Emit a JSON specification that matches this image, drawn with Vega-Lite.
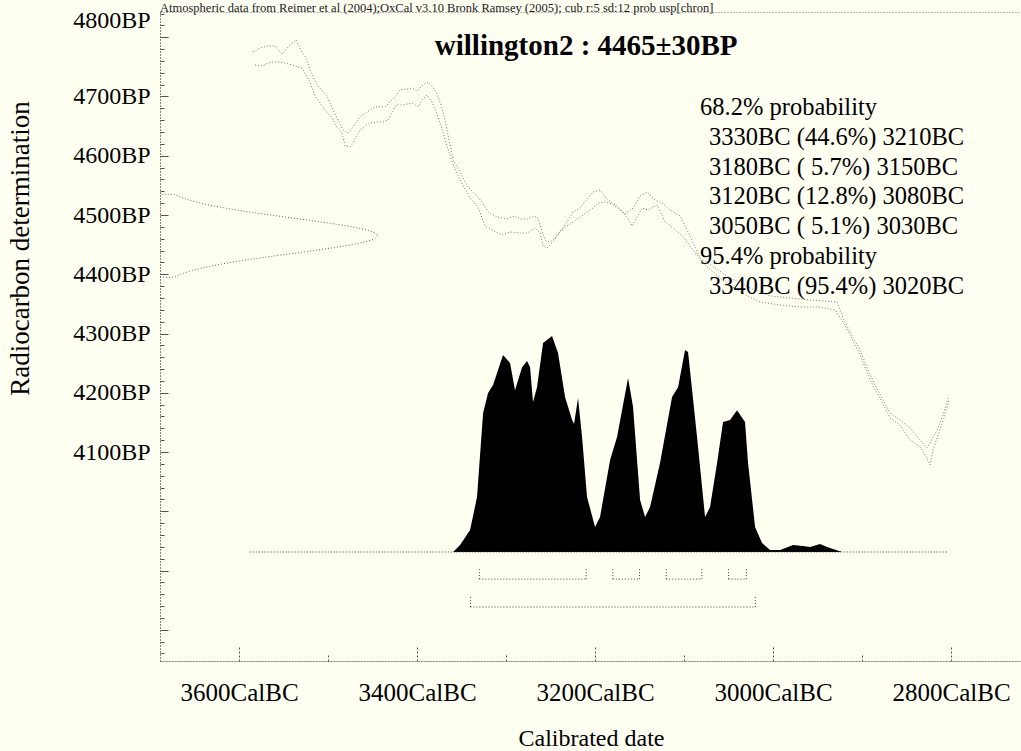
{
  "$schema": "https://vega.github.io/schema/vega-lite/v6.json",
  "autosize": {"type": "none"},
  "padding": {"left": 160, "top": 12, "right": 0, "bottom": 90},
  "width": 862,
  "height": 649,
  "background": "#FFFFF2",
  "config": {
    "view": {"stroke": "#777", "strokeDash": [1, 2]},
    "font": "Liberation Serif"
  },
  "datasets": {
    "curve": [
      {"s": "hi", "cal": 3584.3, "bp": 4775.1}, {"s": "hi", "cal": 3576.4, "bp": 4781.9}, {"s": "hi", "cal": 3567.4, "bp": 4785.2},
      {"s": "hi", "cal": 3559.6, "bp": 4785.2}, {"s": "hi", "cal": 3551.7, "bp": 4771.7}, {"s": "hi", "cal": 3542.7, "bp": 4786.9},
      {"s": "hi", "cal": 3536.0, "bp": 4795.4}, {"s": "hi", "cal": 3529.2, "bp": 4775.1}, {"s": "hi", "cal": 3524.7, "bp": 4765.0},
      {"s": "hi", "cal": 3520.2, "bp": 4744.7}, {"s": "hi", "cal": 3512.4, "bp": 4719.4}, {"s": "hi", "cal": 3501.1, "bp": 4700.9},
      {"s": "hi", "cal": 3494.4, "bp": 4677.2}, {"s": "hi", "cal": 3488.8, "bp": 4660.3}, {"s": "hi", "cal": 3483.1, "bp": 4643.5},
      {"s": "hi", "cal": 3477.5, "bp": 4638.4}, {"s": "hi", "cal": 3471.9, "bp": 4648.5}, {"s": "hi", "cal": 3464.0, "bp": 4665.4},
      {"s": "hi", "cal": 3456.2, "bp": 4673.9}, {"s": "hi", "cal": 3447.2, "bp": 4682.3}, {"s": "hi", "cal": 3436.0, "bp": 4682.3},
      {"s": "hi", "cal": 3424.7, "bp": 4699.2}, {"s": "hi", "cal": 3419.1, "bp": 4711.0}, {"s": "hi", "cal": 3411.2, "bp": 4712.7},
      {"s": "hi", "cal": 3405.6, "bp": 4714.4}, {"s": "hi", "cal": 3400.0, "bp": 4709.3}, {"s": "hi", "cal": 3393.3, "bp": 4719.4},
      {"s": "hi", "cal": 3387.6, "bp": 4724.5}, {"s": "hi", "cal": 3383.1, "bp": 4717.7}, {"s": "hi", "cal": 3377.5, "bp": 4704.2},
      {"s": "hi", "cal": 3373.0, "bp": 4685.7}, {"s": "hi", "cal": 3368.5, "bp": 4660.3}, {"s": "hi", "cal": 3364.0, "bp": 4626.6},
      {"s": "hi", "cal": 3359.5, "bp": 4592.8}, {"s": "hi", "cal": 3351.7, "bp": 4572.6}, {"s": "hi", "cal": 3343.8, "bp": 4548.9},
      {"s": "hi", "cal": 3334.8, "bp": 4535.5}, {"s": "hi", "cal": 3327.0, "bp": 4522.0}, {"s": "hi", "cal": 3320.2, "bp": 4505.1},
      {"s": "hi", "cal": 3310.1, "bp": 4496.6}, {"s": "hi", "cal": 3298.9, "bp": 4493.3}, {"s": "hi", "cal": 3289.9, "bp": 4498.4},
      {"s": "hi", "cal": 3284.3, "bp": 4493.3}, {"s": "hi", "cal": 3275.3, "bp": 4493.3}, {"s": "hi", "cal": 3269.7, "bp": 4498.4},
      {"s": "hi", "cal": 3264.0, "bp": 4495.0}, {"s": "hi", "cal": 3260.7, "bp": 4478.1}, {"s": "hi", "cal": 3256.2, "bp": 4457.8},
      {"s": "hi", "cal": 3250.6, "bp": 4454.4}, {"s": "hi", "cal": 3244.9, "bp": 4461.2}, {"s": "hi", "cal": 3239.3, "bp": 4471.3},
      {"s": "hi", "cal": 3231.5, "bp": 4488.2}, {"s": "hi", "cal": 3224.7, "bp": 4505.1}, {"s": "hi", "cal": 3216.9, "bp": 4511.8},
      {"s": "hi", "cal": 3208.9, "bp": 4527.0}, {"s": "hi", "cal": 3202.2, "bp": 4538.8}, {"s": "hi", "cal": 3194.4, "bp": 4542.2},
      {"s": "hi", "cal": 3185.4, "bp": 4525.3}, {"s": "hi", "cal": 3175.3, "bp": 4515.2}, {"s": "hi", "cal": 3166.3, "bp": 4501.7},
      {"s": "hi", "cal": 3157.3, "bp": 4511.8}, {"s": "hi", "cal": 3149.4, "bp": 4532.1}, {"s": "hi", "cal": 3141.6, "bp": 4538.8},
      {"s": "hi", "cal": 3132.6, "bp": 4525.3}, {"s": "hi", "cal": 3124.7, "bp": 4520.3}, {"s": "hi", "cal": 3115.7, "bp": 4508.4},
      {"s": "hi", "cal": 3104.5, "bp": 4498.4}, {"s": "hi", "cal": 3093.3, "bp": 4464.6}, {"s": "hi", "cal": 3082.0, "bp": 4427.4},
      {"s": "hi", "cal": 3065.2, "bp": 4410.6}, {"s": "hi", "cal": 3048.3, "bp": 4393.7}, {"s": "hi", "cal": 3025.8, "bp": 4376.8},
      {"s": "hi", "cal": 3003.4, "bp": 4363.3}, {"s": "hi", "cal": 2980.9, "bp": 4359.9}, {"s": "hi", "cal": 2958.4, "bp": 4356.5},
      {"s": "hi", "cal": 2928.1, "bp": 4353.2}, {"s": "hi", "cal": 2921.3, "bp": 4326.2}, {"s": "hi", "cal": 2913.5, "bp": 4302.5},
      {"s": "hi", "cal": 2902.2, "bp": 4272.2}, {"s": "hi", "cal": 2893.3, "bp": 4238.4}, {"s": "hi", "cal": 2885.4, "bp": 4213.1},
      {"s": "hi", "cal": 2877.5, "bp": 4191.1}, {"s": "hi", "cal": 2868.5, "bp": 4165.8}, {"s": "hi", "cal": 2857.3, "bp": 4154.0},
      {"s": "hi", "cal": 2846.1, "bp": 4140.5}, {"s": "hi", "cal": 2837.1, "bp": 4123.6}, {"s": "hi", "cal": 2827.0, "bp": 4106.8},
      {"s": "hi", "cal": 2815.7, "bp": 4137.1}, {"s": "hi", "cal": 2809.0, "bp": 4162.4}, {"s": "hi", "cal": 2803.4, "bp": 4191.1},
      {"s": "lo", "cal": 3582.0, "bp": 4753.2}, {"s": "lo", "cal": 3574.2, "bp": 4751.5}, {"s": "lo", "cal": 3567.4, "bp": 4756.6},
      {"s": "lo", "cal": 3561.8, "bp": 4758.2}, {"s": "lo", "cal": 3556.2, "bp": 4758.2}, {"s": "lo", "cal": 3548.3, "bp": 4756.6},
      {"s": "lo", "cal": 3537.1, "bp": 4751.5}, {"s": "lo", "cal": 3529.2, "bp": 4748.1}, {"s": "lo", "cal": 3520.2, "bp": 4724.5},
      {"s": "lo", "cal": 3514.6, "bp": 4700.9}, {"s": "lo", "cal": 3503.4, "bp": 4677.2}, {"s": "lo", "cal": 3495.5, "bp": 4663.7},
      {"s": "lo", "cal": 3491.0, "bp": 4650.2}, {"s": "lo", "cal": 3484.3, "bp": 4638.4}, {"s": "lo", "cal": 3480.9, "bp": 4616.5},
      {"s": "lo", "cal": 3475.3, "bp": 4614.8}, {"s": "lo", "cal": 3471.9, "bp": 4621.5}, {"s": "lo", "cal": 3467.4, "bp": 4635.0},
      {"s": "lo", "cal": 3461.8, "bp": 4646.8}, {"s": "lo", "cal": 3452.8, "bp": 4655.3}, {"s": "lo", "cal": 3444.9, "bp": 4657.0},
      {"s": "lo", "cal": 3438.2, "bp": 4657.0}, {"s": "lo", "cal": 3432.6, "bp": 4660.3}, {"s": "lo", "cal": 3428.1, "bp": 4672.2},
      {"s": "lo", "cal": 3423.6, "bp": 4685.7}, {"s": "lo", "cal": 3416.9, "bp": 4685.7}, {"s": "lo", "cal": 3410.1, "bp": 4687.4},
      {"s": "lo", "cal": 3404.5, "bp": 4689.0}, {"s": "lo", "cal": 3398.9, "bp": 4682.3}, {"s": "lo", "cal": 3394.4, "bp": 4694.1},
      {"s": "lo", "cal": 3388.8, "bp": 4702.5}, {"s": "lo", "cal": 3383.1, "bp": 4690.7}, {"s": "lo", "cal": 3377.5, "bp": 4670.5},
      {"s": "lo", "cal": 3373.0, "bp": 4650.2}, {"s": "lo", "cal": 3367.4, "bp": 4621.5}, {"s": "lo", "cal": 3360.7, "bp": 4589.5},
      {"s": "lo", "cal": 3351.7, "bp": 4559.1}, {"s": "lo", "cal": 3340.4, "bp": 4528.7}, {"s": "lo", "cal": 3331.5, "bp": 4513.5},
      {"s": "lo", "cal": 3323.6, "bp": 4481.4}, {"s": "lo", "cal": 3315.7, "bp": 4474.7}, {"s": "lo", "cal": 3304.5, "bp": 4466.3},
      {"s": "lo", "cal": 3295.5, "bp": 4471.3}, {"s": "lo", "cal": 3284.3, "bp": 4469.6}, {"s": "lo", "cal": 3276.4, "bp": 4469.6},
      {"s": "lo", "cal": 3267.4, "bp": 4478.1}, {"s": "lo", "cal": 3261.8, "bp": 4469.6}, {"s": "lo", "cal": 3258.4, "bp": 4447.7},
      {"s": "lo", "cal": 3253.9, "bp": 4444.3}, {"s": "lo", "cal": 3247.2, "bp": 4454.4}, {"s": "lo", "cal": 3239.3, "bp": 4473.0},
      {"s": "lo", "cal": 3231.5, "bp": 4481.4}, {"s": "lo", "cal": 3224.7, "bp": 4488.2}, {"s": "lo", "cal": 3216.9, "bp": 4496.6},
      {"s": "lo", "cal": 3208.9, "bp": 4505.1}, {"s": "lo", "cal": 3202.2, "bp": 4511.8}, {"s": "lo", "cal": 3196.6, "bp": 4520.3},
      {"s": "lo", "cal": 3188.8, "bp": 4522.0}, {"s": "lo", "cal": 3180.9, "bp": 4518.6}, {"s": "lo", "cal": 3171.9, "bp": 4508.4},
      {"s": "lo", "cal": 3164.0, "bp": 4496.6}, {"s": "lo", "cal": 3158.4, "bp": 4481.4}, {"s": "lo", "cal": 3152.8, "bp": 4496.6},
      {"s": "lo", "cal": 3147.2, "bp": 4511.8}, {"s": "lo", "cal": 3140.4, "bp": 4508.4}, {"s": "lo", "cal": 3130.3, "bp": 4516.9},
      {"s": "lo", "cal": 3121.3, "bp": 4488.2}, {"s": "lo", "cal": 3112.4, "bp": 4478.1}, {"s": "lo", "cal": 3101.1, "bp": 4462.9},
      {"s": "lo", "cal": 3089.9, "bp": 4440.9}, {"s": "lo", "cal": 3076.4, "bp": 4415.6}, {"s": "lo", "cal": 3059.6, "bp": 4393.7},
      {"s": "lo", "cal": 3037.1, "bp": 4370.0}, {"s": "lo", "cal": 3014.6, "bp": 4353.2}, {"s": "lo", "cal": 2992.1, "bp": 4348.1},
      {"s": "lo", "cal": 2969.7, "bp": 4344.7}, {"s": "lo", "cal": 2947.2, "bp": 4344.7}, {"s": "lo", "cal": 2930.3, "bp": 4339.7},
      {"s": "lo", "cal": 2921.3, "bp": 4319.4}, {"s": "lo", "cal": 2913.5, "bp": 4297.5}, {"s": "lo", "cal": 2902.2, "bp": 4263.7},
      {"s": "lo", "cal": 2893.3, "bp": 4230.0}, {"s": "lo", "cal": 2886.5, "bp": 4208.0}, {"s": "lo", "cal": 2879.8, "bp": 4191.1},
      {"s": "lo", "cal": 2868.5, "bp": 4157.4}, {"s": "lo", "cal": 2857.3, "bp": 4145.6}, {"s": "lo", "cal": 2846.1, "bp": 4120.3},
      {"s": "lo", "cal": 2834.8, "bp": 4108.4}, {"s": "lo", "cal": 2827.0, "bp": 4089.9}, {"s": "lo", "cal": 2823.6, "bp": 4078.1},
      {"s": "lo", "cal": 2820.2, "bp": 4103.4}, {"s": "lo", "cal": 2814.6, "bp": 4128.7}, {"s": "lo", "cal": 2807.9, "bp": 4157.4},
      {"s": "lo", "cal": 2802.3, "bp": 4187.8}
    ],
    "gauss": [
      {"i": 0, "bp": 4395, "d": 0}, {"i": 1, "bp": 4395, "d": 0.066}, {"i": 2, "bp": 4400, "d": 0.096},
      {"i": 3, "bp": 4405, "d": 0.135}, {"i": 4, "bp": 4410, "d": 0.186}, {"i": 5, "bp": 4415, "d": 0.249},
      {"i": 6, "bp": 4420, "d": 0.325}, {"i": 7, "bp": 4425, "d": 0.411}, {"i": 8, "bp": 4430, "d": 0.506},
      {"i": 9, "bp": 4435, "d": 0.607}, {"i": 10, "bp": 4440, "d": 0.707}, {"i": 11, "bp": 4445, "d": 0.801},
      {"i": 12, "bp": 4450, "d": 0.883}, {"i": 13, "bp": 4455, "d": 0.946}, {"i": 14, "bp": 4460, "d": 0.986},
      {"i": 15, "bp": 4465, "d": 1}, {"i": 16, "bp": 4470, "d": 0.986}, {"i": 17, "bp": 4475, "d": 0.946},
      {"i": 18, "bp": 4480, "d": 0.883}, {"i": 19, "bp": 4485, "d": 0.801}, {"i": 20, "bp": 4490, "d": 0.707},
      {"i": 21, "bp": 4495, "d": 0.607}, {"i": 22, "bp": 4500, "d": 0.506}, {"i": 23, "bp": 4505, "d": 0.411},
      {"i": 24, "bp": 4510, "d": 0.325}, {"i": 25, "bp": 4515, "d": 0.249}, {"i": 26, "bp": 4520, "d": 0.186},
      {"i": 27, "bp": 4525, "d": 0.135}, {"i": 28, "bp": 4530, "d": 0.096}, {"i": 29, "bp": 4535, "d": 0.066},
      {"i": 30, "bp": 4535, "d": 0}
    ],
    "posterior": [
      {"cal": 3359.5, "p": 0}, {"cal": 3351.7, "p": 0.033}, {"cal": 3340.4, "p": 0.102}, {"cal": 3332.6, "p": 0.256},
      {"cal": 3325.8, "p": 0.647}, {"cal": 3320.2, "p": 0.74}, {"cal": 3314.6, "p": 0.777}, {"cal": 3303.4, "p": 0.916},
      {"cal": 3295.5, "p": 0.879}, {"cal": 3289.9, "p": 0.753}, {"cal": 3282.0, "p": 0.86}, {"cal": 3276.4, "p": 0.888},
      {"cal": 3273.0, "p": 0.86}, {"cal": 3269.7, "p": 0.698}, {"cal": 3265.2, "p": 0.767}, {"cal": 3258.4, "p": 0.972},
      {"cal": 3248.3, "p": 1.005}, {"cal": 3241.6, "p": 0.926}, {"cal": 3233.7, "p": 0.721}, {"cal": 3225.8, "p": 0.614},
      {"cal": 3223.6, "p": 0.595}, {"cal": 3219.1, "p": 0.716}, {"cal": 3214.6, "p": 0.535}, {"cal": 3209.0, "p": 0.256},
      {"cal": 3200.0, "p": 0.116}, {"cal": 3194.4, "p": 0.163}, {"cal": 3183.1, "p": 0.428}, {"cal": 3175.3, "p": 0.535},
      {"cal": 3162.9, "p": 0.809}, {"cal": 3157.3, "p": 0.674}, {"cal": 3149.4, "p": 0.242}, {"cal": 3143.8, "p": 0.163},
      {"cal": 3138.2, "p": 0.209}, {"cal": 3127.0, "p": 0.414}, {"cal": 3113.5, "p": 0.721}, {"cal": 3106.7, "p": 0.767},
      {"cal": 3098.9, "p": 0.94}, {"cal": 3095.5, "p": 0.93}, {"cal": 3085.4, "p": 0.535}, {"cal": 3076.4, "p": 0.163},
      {"cal": 3070.8, "p": 0.209}, {"cal": 3062.9, "p": 0.414}, {"cal": 3056.2, "p": 0.605}, {"cal": 3048.3, "p": 0.614},
      {"cal": 3040.5, "p": 0.66}, {"cal": 3031.5, "p": 0.605}, {"cal": 3028.1, "p": 0.414}, {"cal": 3020.2, "p": 0.116},
      {"cal": 3012.4, "p": 0.042}, {"cal": 3003.4, "p": 0.009}, {"cal": 2992.1, "p": 0.009}, {"cal": 2977.5, "p": 0.033},
      {"cal": 2966.3, "p": 0.028}, {"cal": 2958.4, "p": 0.023}, {"cal": 2947.2, "p": 0.037}, {"cal": 2939.3, "p": 0.023},
      {"cal": 2922.5, "p": 0}
    ],
    "ranges": [
      {"level": "68.2%", "from": 3330, "to": 3210},
      {"level": "68.2%", "from": 3180, "to": 3150},
      {"level": "68.2%", "from": 3120, "to": 3080},
      {"level": "68.2%", "from": 3050, "to": 3030},
      {"level": "95.4%", "from": 3340, "to": 3020}
    ],
    "span": [{"from": 3588, "to": 2803}],
    "notes": [
      {"k": 0, "kind": "head", "text": "68.2% probability"},
      {"k": 1, "kind": "range", "text": "3330BC (44.6%) 3210BC"},
      {"k": 2, "kind": "range", "text": "3180BC ( 5.7%) 3150BC"},
      {"k": 3, "kind": "range", "text": "3120BC (12.8%) 3080BC"},
      {"k": 4, "kind": "range", "text": "3050BC ( 5.1%) 3030BC"},
      {"k": 5, "kind": "head", "text": "95.4% probability"},
      {"k": 6, "kind": "range", "text": "3340BC (95.4%) 3020BC"}
    ],
    "label": [{"name": "willington2 : 4465±30BP"}],
    "source": [{"note": "Atmospheric data from Reimer et al (2004);OxCal v3.10 Bronk Ramsey (2005); cub r:5 sd:12 prob usp[chron]"}]
  },
  "resolve": {"scale": {"x": "independent", "y": "independent"}, "axis": {"x": "independent", "y": "independent"}},
  "layer": [
    {
      "data": {"name": "curve"},
      "mark": {"type": "line", "color": "#777", "strokeWidth": 1, "strokeDash": [1, 2]},
      "encoding": {
        "x": {
          "field": "cal", "type": "quantitative",
          "scale": {"domain": [2720.3, 3688.8], "reverse": true, "nice": false, "zero": false},
          "axis": {
            "values": [2800, 2900, 3000, 3100, 3200, 3300, 3400, 3500, 3600],
            "labelExpr": "datum.value % 200 === 0 ? datum.value + 'CalBC' : ''",
            "tickSize": {"condition": {"test": "datum.value % 200 === 0", "value": -15}, "value": -7},
            "tickColor": "#555", "tickDash": [2, 2], "tickWidth": 1,
            "domainColor": "#555", "domainDash": [1, 2],
            "labelFont": "Liberation Serif", "labelFontSize": 25, "labelColor": "#000",
            "labelPadding": 46, "labelBaseline": "middle", "labelFlush": false, "labelOverlap": false,
            "grid": false,
            "title": "Calibrated date", "titleFont": "Liberation Serif", "titleFontSize": 24,
            "titleFontWeight": "normal", "titleColor": "#000", "titleY": 77, "titleBaseline": "middle"
          }
        },
        "y": {
          "field": "bp", "type": "quantitative",
          "scale": {"domain": [3747.3, 4842.6], "nice": false, "zero": false},
          "axis": {
            "values": [3760, 3780, 3800, 3820, 3840, 3860, 3880, 3900, 3920, 3940, 3960, 3980, 4000, 4020, 4040, 4060, 4080, 4100, 4120, 4140, 4160, 4180, 4200, 4220, 4240, 4260, 4280, 4300, 4320, 4340, 4360, 4380, 4400, 4420, 4440, 4460, 4480, 4500, 4520, 4540, 4560, 4580, 4600, 4620, 4640, 4660, 4680, 4700, 4720, 4740, 4760, 4780, 4800, 4820, 4840],
            "labelExpr": "datum.value >= 4100 && datum.value % 100 === 0 ? datum.value + 'BP' : ''",
            "tickSize": {"condition": {"test": "datum.value % 100 === 0", "value": -8}, "value": -4},
            "labelOffset": {"condition": {"test": "datum.value === 4800", "value": -17}, "value": 0},
            "tickColor": "#555", "tickWidth": 1,
            "domainColor": "#555", "domainDash": [1, 2],
            "labelFont": "Liberation Serif", "labelFontSize": 24, "labelColor": "#000",
            "labelPadding": 18, "labelFlush": false, "labelOverlap": false,
            "grid": false,
            "title": "Radiocarbon determination", "titleFont": "Liberation Serif", "titleFontSize": 27,
            "titleFontWeight": "normal", "titleColor": "#000", "titleX": -140, "titleY": 236,
            "titleAngle": 270, "titleAlign": "center", "titleBaseline": "middle"
          }
        },
        "detail": {"field": "s"}
      }
    },
    {
      "data": {"name": "gauss"},
      "mark": {"type": "line", "color": "#666", "strokeWidth": 1, "strokeDash": [1, 2]},
      "encoding": {
        "x": {"field": "d", "type": "quantitative", "scale": {"domain": [0, 3.955], "nice": false, "zero": false}, "axis": null},
        "y": {"field": "bp", "type": "quantitative", "scale": {"domain": [3747.3, 4842.6], "nice": false, "zero": false}, "axis": null},
        "order": {"field": "i"}
      }
    },
    {
      "data": {"name": "posterior"},
      "mark": {"type": "area", "color": "#000", "opacity": 1},
      "encoding": {
        "x": {"field": "cal", "type": "quantitative", "scale": {"domain": [2720.3, 3688.8], "reverse": true, "nice": false, "zero": false}, "axis": null},
        "y": {"field": "p", "type": "quantitative", "scale": {"domain": [-0.507, 2.512], "nice": false, "zero": false}, "axis": null},
        "y2": {"datum": 0}
      }
    },
    {
      "data": {"name": "span"},
      "mark": {"type": "rule", "color": "#333", "strokeWidth": 1, "strokeDash": [1, 2]},
      "encoding": {
        "x": {"field": "from", "type": "quantitative", "scale": {"domain": [2720.3, 3688.8], "reverse": true, "nice": false, "zero": false}, "axis": null},
        "x2": {"field": "to"},
        "y": {"datum": 0, "type": "quantitative", "scale": {"domain": [-0.507, 2.512], "nice": false, "zero": false}, "axis": null}
      }
    },
    {
      "data": {"name": "ranges"},
      "transform": [{"filter": "datum.level === '68.2%'"}],
      "mark": {"type": "rule", "color": "#444", "strokeWidth": 1, "strokeDash": [1, 2]},
      "encoding": {
        "x": {"field": "from", "type": "quantitative", "scale": {"domain": [2720.3, 3688.8], "reverse": true, "nice": false, "zero": false}, "axis": null},
        "x2": {"field": "to"},
        "y": {"datum": -0.126, "type": "quantitative", "scale": {"domain": [-0.507, 2.512], "nice": false, "zero": false}, "axis": null}
      }
    },
    {
      "data": {"name": "ranges"},
      "transform": [{"filter": "datum.level === '95.4%'"}],
      "mark": {"type": "rule", "color": "#444", "strokeWidth": 1, "strokeDash": [1, 2]},
      "encoding": {
        "x": {"field": "from", "type": "quantitative", "scale": {"domain": [2720.3, 3688.8], "reverse": true, "nice": false, "zero": false}, "axis": null},
        "x2": {"field": "to"},
        "y": {"datum": -0.256, "type": "quantitative", "scale": {"domain": [-0.507, 2.512], "nice": false, "zero": false}, "axis": null}
      }
    },
    {
      "data": {"name": "ranges"},
      "transform": [{"filter": "datum.level === '68.2%'"}, {"fold": ["from", "to"], "as": ["edge", "year"]}],
      "mark": {"type": "rule", "color": "#444", "strokeWidth": 1, "strokeDash": [1, 2]},
      "encoding": {
        "x": {"field": "year", "type": "quantitative", "scale": {"domain": [2720.3, 3688.8], "reverse": true, "nice": false, "zero": false}, "axis": null},
        "y": {"datum": -0.126, "type": "quantitative", "scale": {"domain": [-0.507, 2.512], "nice": false, "zero": false}, "axis": null},
        "y2": {"datum": -0.074}
      }
    },
    {
      "data": {"name": "ranges"},
      "transform": [{"filter": "datum.level === '95.4%'"}, {"fold": ["from", "to"], "as": ["edge", "year"]}],
      "mark": {"type": "rule", "color": "#444", "strokeWidth": 1, "strokeDash": [1, 2]},
      "encoding": {
        "x": {"field": "year", "type": "quantitative", "scale": {"domain": [2720.3, 3688.8], "reverse": true, "nice": false, "zero": false}, "axis": null},
        "y": {"datum": -0.256, "type": "quantitative", "scale": {"domain": [-0.507, 2.512], "nice": false, "zero": false}, "axis": null},
        "y2": {"datum": -0.2}
      }
    },
    {
      "data": {"name": "notes"},
      "transform": [{"filter": "datum.kind === 'head'"}],
      "mark": {"type": "text", "align": "left", "baseline": "middle", "font": "Liberation Serif", "fontSize": 24.5, "color": "#000"},
      "encoding": {
        "x": {"datum": 3082, "type": "quantitative", "scale": {"domain": [2720.3, 3688.8], "reverse": true, "nice": false, "zero": false}, "axis": null},
        "y": {"field": "k", "type": "quantitative", "scale": {"domain": [-3.218, 18.539], "reverse": true, "nice": false, "zero": false}, "axis": null},
        "text": {"field": "text"}
      }
    },
    {
      "data": {"name": "notes"},
      "transform": [{"filter": "datum.kind === 'range'"}],
      "mark": {"type": "text", "align": "left", "baseline": "middle", "font": "Liberation Serif", "fontSize": 24.5, "color": "#000"},
      "encoding": {
        "x": {"datum": 3072, "type": "quantitative", "scale": {"domain": [2720.3, 3688.8], "reverse": true, "nice": false, "zero": false}, "axis": null},
        "y": {"field": "k", "type": "quantitative", "scale": {"domain": [-3.218, 18.539], "reverse": true, "nice": false, "zero": false}, "axis": null},
        "text": {"field": "text"}
      }
    },
    {
      "data": {"name": "label"},
      "mark": {"type": "text", "align": "center", "baseline": "middle", "font": "Liberation Serif", "fontSize": 29, "fontWeight": "bold", "color": "#000"},
      "encoding": {
        "x": {"datum": 3210, "type": "quantitative", "scale": {"domain": [2720.3, 3688.8], "reverse": true, "nice": false, "zero": false}, "axis": null},
        "y": {"datum": 4785, "type": "quantitative", "scale": {"domain": [3747.3, 4842.6], "nice": false, "zero": false}, "axis": null},
        "text": {"field": "name"}
      }
    },
    {
      "data": {"name": "source"},
      "mark": {"type": "text", "align": "left", "baseline": "alphabetic", "dy": 0, "font": "Liberation Serif", "fontSize": 12.5, "color": "#222"},
      "encoding": {
        "x": {"datum": 3688.8, "type": "quantitative", "scale": {"domain": [2720.3, 3688.8], "reverse": true, "nice": false, "zero": false}, "axis": null},
        "y": {"datum": 4842.6, "type": "quantitative", "scale": {"domain": [3747.3, 4842.6], "nice": false, "zero": false}, "axis": null},
        "text": {"field": "note"}
      }
    }
  ]
}
